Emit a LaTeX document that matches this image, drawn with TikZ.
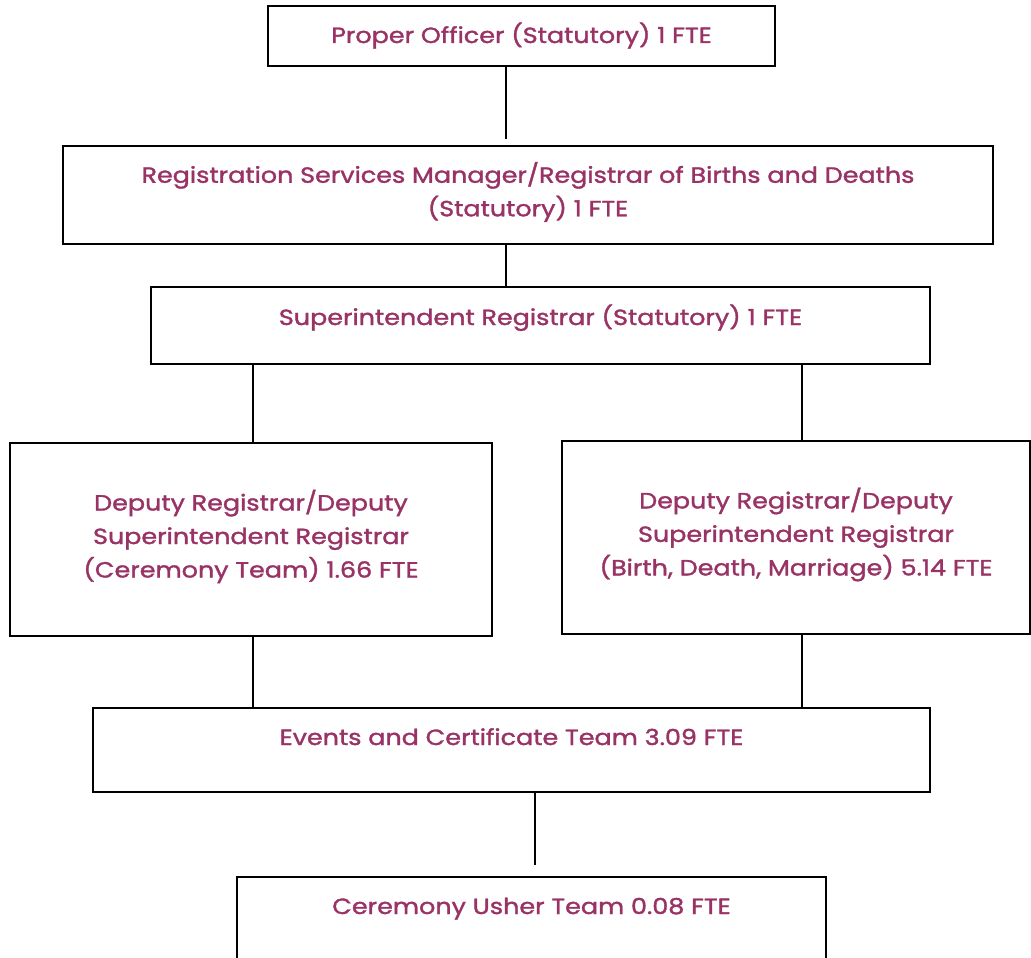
\documentclass[tikz,border=0pt]{standalone}
\usepackage{fontspec}
\setmainfont{Poppins}[FakeStretch=1.155, FakeBold=1.5]
\definecolor{txt}{RGB}{153,51,102}
\tikzset{
  box/.style={draw=black, line width=2pt, rectangle, inner sep=0pt, text=txt, font=\fontsize{22}{33.5}\selectfont},
  lbl/.style={text=txt, font=\fontsize{22}{33.5}\selectfont, align=center, inner sep=0pt, yshift=3pt},
  conn/.style={draw=black, line width=2pt}
}
\begin{document}
\begin{tikzpicture}[x=1pt,y=-1pt]
\useasboundingbox (0,0) rectangle (1031,958);
\clip (0,0) rectangle (1031,958);
\fill[white] (0,0) rectangle (1031,958);
\node[box, minimum width=507pt, text height=37pt, text depth=23pt] (b1) at (521.5,36) {Proper Officer (Statutory) 1 FTE};
\node[box, minimum width=930pt, minimum height=98pt, label={[lbl]center:{Registration Services Manager/Registrar of Births and Deaths\\(Statutory) 1 FTE}}] (b2) at (528,195) {};
\node[box, minimum width=779pt, text height=38pt, text depth=39pt] (b3) at (540.5,325.5) {Superintendent Registrar (Statutory) 1 FTE};
\node[box, minimum width=482pt, minimum height=193pt, label={[lbl]center:{Deputy Registrar/Deputy\\Superintendent Registrar\\(Ceremony Team) 1.66 FTE}}] (b4l) at (251,539.5) {};
\node[box, minimum width=468pt, minimum height=193pt, label={[lbl]center:{Deputy Registrar/Deputy\\Superintendent Registrar\\(Birth, Death, Marriage) 5.14 FTE}}] (b4r) at (796,537.5) {};
\node[box, minimum width=837pt, text height=37pt, text depth=47pt] (b5) at (511.5,750) {Events and Certificate Team 3.09 FTE};
\node[box, minimum width=589pt, text height=37pt, text depth=63pt] (b6) at (531.5,927) {Ceremony Usher Team 0.08 FTE};
\coordinate (cM) at (506,0);
\coordinate (cL) at (253,0);
\coordinate (cR) at (802,0);
\coordinate (cB) at (535,0);
\draw[conn, shorten >=6pt] (b1.south -| cM) -- (b2.north -| cM);
\draw[conn] (b2.south -| cM) -- (b3.north -| cM);
\draw[conn] (b3.south -| cL) -- (b4l.north -| cL);
\draw[conn] (b3.south -| cR) -- (b4r.north -| cR);
\draw[conn] (b4l.south -| cL) -- (b5.north -| cL);
\draw[conn] (b4r.south -| cR) -- (b5.north -| cR);
\draw[conn, shorten >=11pt] (b5.south -| cB) -- (b6.north -| cB);
\end{tikzpicture}
\end{document}
